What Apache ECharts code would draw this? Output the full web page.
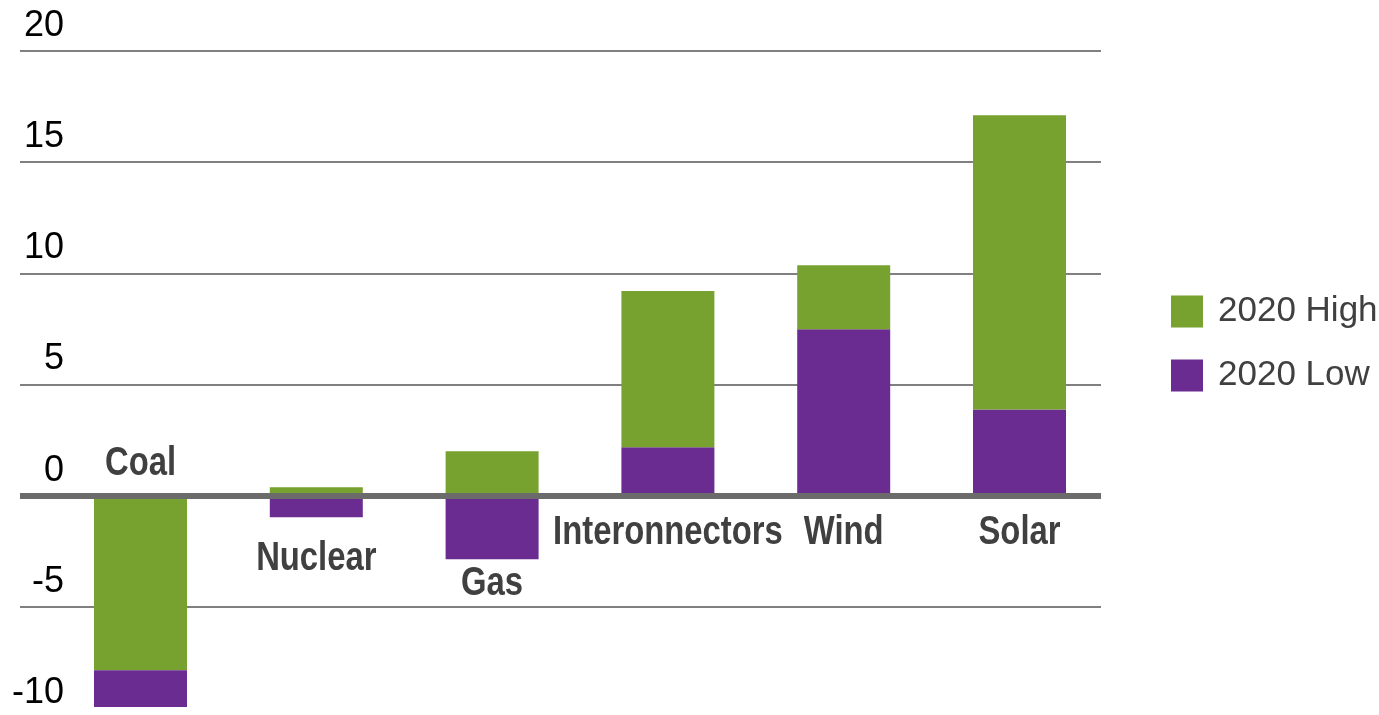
<!DOCTYPE html>
<html>
<head>
<meta charset="utf-8">
<script src="https://cdn.jsdelivr.net/npm/echarts@6/dist/echarts.min.js"></script>
<style>
html,body{margin:0;padding:0;background:#fff;}
#chart{width:1379px;height:715px;}
</style>
</head>
<body>
<div id="chart"></div>
<script>
// ---- data ----
const categories = ['Coal', 'Nuclear', 'Gas', 'Interonnectors', 'Wind', 'Solar'];
const lowValues  = [-1.65, -0.97, -2.86, 2.18, 7.48, 3.88];
const highValues = [-7.85, 0.38, 2.0, 7.02, 2.88, 13.23];
const yTicks = [-10, -5, 0, 5, 10, 15, 20];

// ---- styling / layout ----
const GREEN = '#78a22f';
const PURPLE = '#6a2c91';
const TEXT = '#404040';
const ARIAL = '"Liberation Sans", Arial, sans-serif';
const GRID_TOP = 51, GRID_H = 667;
// pixel offsets of category labels relative to the zero line
const labelDy = [-32, 63, 88, 37, 37, 37];

// ECharts stacks the first series nearest zero; coal's high part sits next to zero
const highNeg = highValues.map(v => v < 0 ? v : '-');
const highPos = highValues.map(v => v >= 0 ? v : '-');

const chart = echarts.init(document.getElementById('chart'));
const yMin = yTicks[0], yMax = yTicks[yTicks.length - 1];
const option = {
  animation: false,
  backgroundColor: '#fff',
  grid: [
    { left: 52.6, right: 271.6, top: GRID_TOP, height: GRID_H, outerBoundsMode: 'none', containLabel: false },
    { left: 20, right: 278, top: GRID_TOP, height: GRID_H, outerBoundsMode: 'none', containLabel: false }
  ],
  xAxis: [
    { type: 'category', data: categories, gridIndex: 0, show: false },
    { type: 'category', data: categories, gridIndex: 1,
      axisLine: { show: true, onZero: true, lineStyle: { color: '#6b6b6b', width: 6, cap: 'butt' } },
      axisTick: { show: false }, axisLabel: { show: false }, z: 10 }
  ],
  yAxis: [
    { type: 'value', gridIndex: 0, min: yMin, max: yMax, interval: 5, show: false },
    { type: 'value', gridIndex: 1, min: yMin, max: yMax, interval: 5,
      axisLine: { show: false }, axisTick: { show: false },
      splitLine: { show: true, lineStyle: { color: '#808080', width: 2 } },
      axisLabel: {
        inside: true, margin: 44, align: 'right', verticalAlign: 'bottom',
        color: '#000', fontFamily: ARIAL, fontSize: 36, lineHeight: 36,
        padding: [0, 0, 7, 0]
      }
    }
  ],
  legend: {
    orient: 'vertical', left: 1166, top: 289,
    itemWidth: 32, itemHeight: 32, itemGap: 29,
    icon: 'rect',
    data: ['2020 High', '2020 Low'],
    textStyle: { color: TEXT, fontFamily: ARIAL, fontSize: 35, lineHeight: 32, padding: [0, 0, 0, 10] }
  },
  series: [
    { name: '2020 High', type: 'bar', stack: 's', data: highNeg, barWidth: 93,
      itemStyle: { color: GREEN }, xAxisIndex: 0, yAxisIndex: 0 },
    { name: '2020 Low', type: 'bar', stack: 's', data: lowValues, barWidth: 93,
      itemStyle: { color: PURPLE }, xAxisIndex: 0, yAxisIndex: 0 },
    { name: '2020 High', type: 'bar', stack: 's', data: highPos, barWidth: 93,
      itemStyle: { color: GREEN }, xAxisIndex: 0, yAxisIndex: 0 },
    { name: 'labels', type: 'custom', xAxisIndex: 0, yAxisIndex: 0, silent: true, z: 20,
      data: categories.map((c, i) => [i, 0]),
      renderItem: function (params, api) {
        const i = params.dataIndex;
        const p = api.coord([api.value(0), api.value(1)]);
        return {
          type: 'text',
          x: p[0], y: p[1] + labelDy[i],
          scaleX: 0.82, scaleY: 1,
          style: {
            text: categories[i], x: 0, y: 0,
            align: 'center', verticalAlign: 'middle',
            fill: TEXT, font: 'bold 40px ' + ARIAL
          }
        };
      }
    }
  ]
};
chart.setOption(option);
</script>
</body>
</html>
